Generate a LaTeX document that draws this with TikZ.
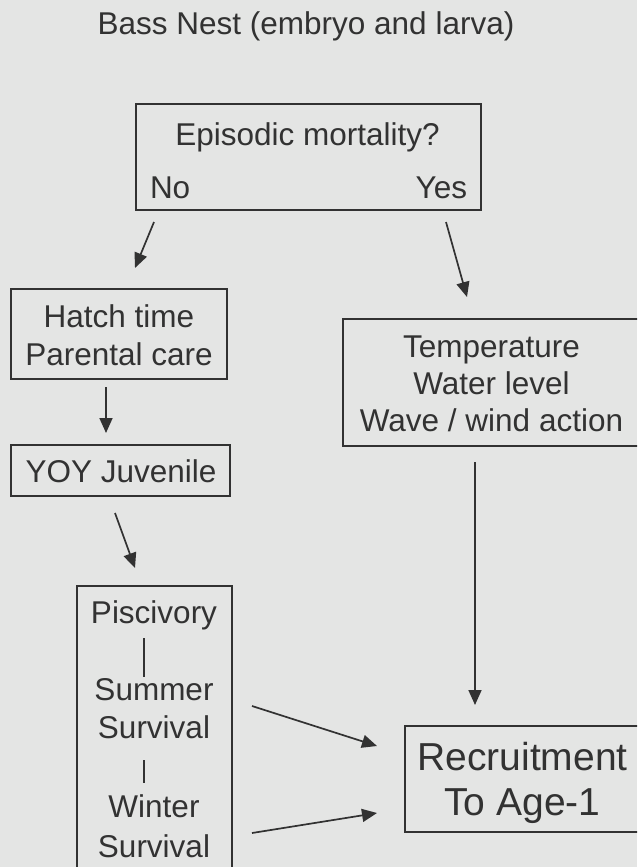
\documentclass[tikz,border=0pt]{standalone}
\usepackage{fontspec}
\setmainfont{Liberation Sans}
\usetikzlibrary{arrows.meta}
\definecolor{bgcol}{RGB}{228,229,228}
\definecolor{inkcol}{RGB}{50,50,50}
\tikzset{
  boxshape/.style={draw=inkcol, line width=1.5pt, inner sep=0pt, outer sep=0pt},
  txt/.style={text=inkcol, font=\fontsize{31.5}{37}\selectfont, anchor=base, inner sep=0pt, outer sep=0pt},
  bigtxt/.style={txt, font=\fontsize{39}{45}\selectfont},
  arr/.style={draw=inkcol, line width=1.7pt, -{Triangle[length=15pt,width=13pt]}},
  barline/.style={draw=inkcol, line width=1.3pt}
}
\begin{document}
\begin{tikzpicture}[x=1pt,y=-1pt]
\fill[bgcol] (0,0) rectangle (637,867);
\useasboundingbox (0,0) rectangle (637,867);
\clip (0,0) rectangle (637,867);

% title
\node[txt] (title) at (306,35) {Bass Nest (embryo and larva)};

% boxes
\node[boxshape, minimum width=345pt, minimum height=106pt] (epi) at (308.5,157) {};
\node[boxshape, minimum width=216pt, minimum height=90pt] (hatch) at (119,334) {};
\node[boxshape, minimum width=219pt, minimum height=51pt] (yoy) at (120.5,470.5) {};
\node[boxshape, minimum width=297pt, minimum height=127pt] (temp) at (491.5,382.5) {};
\node[boxshape, minimum width=235pt, minimum height=106pt] (recr) at (522.5,779) {};
\node[inner sep=0pt, outer sep=0pt, minimum width=155pt, minimum height=314pt] (pisc) at (154.5,743) {};
\draw[draw=inkcol, line width=1.5pt] (pisc.south west) -- (pisc.north west) -- (pisc.north east) -- (pisc.south east);

% texts
\node[txt] (epit) at (307.5,145) {Episodic mortality?};
\node[txt, anchor=base west] (no) at (150,198) {No};
\node[txt, anchor=base east] (yes) at (467,198) {Yes};
\node[txt] (hatcht1) at (119,327) {Hatch time};
\node[txt] (hatcht2) at (119,365) {Parental care};
\node[txt] (yoyt) at (121,482) {YOY Juvenile};
\node[txt] (p1) at (154,623) {Piscivory};
\node[txt] (p2) at (154,700) {Summer};
\node[txt] (p3) at (154,738) {Survival};
\node[txt] (p4) at (154,817) {Winter};
\node[txt] (p5) at (154,857) {Survival};
\node[txt] (t1) at (491.5,357) {Temperature};
\node[txt] (t2) at (491.5,394) {Water level};
\node[txt] (t3) at (491.5,431) {Wave / wind action};
\node[bigtxt] (r1) at (522.5,770) {Recruitment};
\node[bigtxt] (r2) at (522.5,815) {To Age-1};

% bars inside piscivory box
\coordinate (b1a) at (144,638); \coordinate (b1b) at (144,677);
\coordinate (b2a) at (144,760); \coordinate (b2b) at (144,783);
\draw[barline] (b1a) -- (b1b);
\draw[barline] (b2a) -- (b2b);

% connector ends
\coordinate (noS) at (154,222);   \coordinate (hatchN) at (135,268);
\coordinate (yesS) at (446,222);  \coordinate (tempN) at (467,297);
\coordinate (hatchS) at (106,387);\coordinate (yoyN) at (106,433);
\coordinate (yoyS) at (115,513);  \coordinate (piscN) at (135,568);
\coordinate (tempS) at (475,462); \coordinate (recrN) at (475,705);
\coordinate (sumE) at (252,706);  \coordinate (recrW1) at (377,746);
\coordinate (winE) at (252,833);  \coordinate (recrW2) at (377,813);

\draw[arr] (noS) -- (hatchN);
\draw[arr] (yesS) -- (tempN);
\draw[arr] (hatchS) -- (yoyN);
\draw[arr] (yoyS) -- (piscN);
\draw[arr] (tempS) -- (recrN);
\draw[arr] (sumE) -- (recrW1);
\draw[arr] (winE) -- (recrW2);
\end{tikzpicture}
\end{document}
